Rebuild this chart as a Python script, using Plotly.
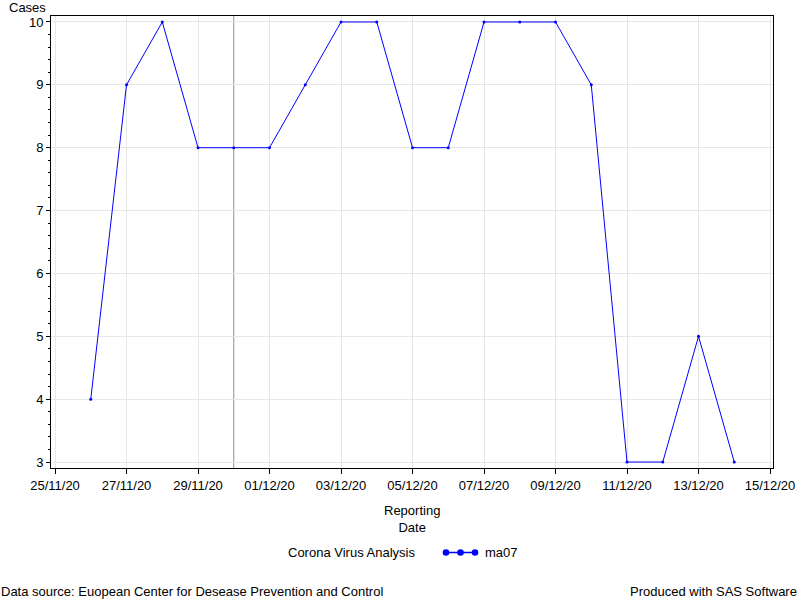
import plotly.graph_objects as go
import pandas as pd

dates = ["2020-11-26", "2020-11-27", "2020-11-28", "2020-11-29", "2020-11-30",
         "2020-12-01", "2020-12-02", "2020-12-03", "2020-12-04", "2020-12-05",
         "2020-12-06", "2020-12-07", "2020-12-08", "2020-12-09", "2020-12-10",
         "2020-12-11", "2020-12-12", "2020-12-13", "2020-12-14"]
ma07 = [4, 9, 10, 8, 8, 8, 9, 10, 10, 8, 8, 10, 10, 10, 9, 3, 3, 5, 3]
ref_date = "2020-11-30"
x_ticks = ["2020-11-25", "2020-11-27", "2020-11-29", "2020-12-01", "2020-12-03",
           "2020-12-05", "2020-12-07", "2020-12-09", "2020-12-11", "2020-12-13",
           "2020-12-15"]
x_ticktext = [pd.Timestamp(d).strftime("%d/%m/%y") for d in x_ticks]

FONT = "Liberation Sans, Arial, sans-serif"
FS = 13
BLUE = "#0000ff"

# plot area in pixels
L, T, R, B = 51, 16, 773, 468
W, H = R - L, B - T


def px(xp):
    return (xp - L) / W


def py(yp):
    return (B - yp) / H


fig = go.Figure()
fig.add_trace(go.Scatter(
    x=dates, y=ma07, mode="lines+markers", name="ma07",
    line=dict(color=BLUE, width=1),
    marker=dict(color=BLUE, size=3),
    showlegend=False,
))

shapes = [dict(type="line", xref="x", yref="paper", x0=ref_date, x1=ref_date,
               y0=0, y1=1, line=dict(color="#909090", width=1), layer="below")]

# custom legend symbol: line with three markers
ly = py(552.5)
shapes.append(dict(type="line", xref="paper", yref="paper", x0=px(443), x1=px(478),
                   y0=ly, y1=ly, line=dict(color=BLUE, width=1.5)))
for mx in (446, 460.5, 475):
    shapes.append(dict(type="circle", xref="paper", yref="paper",
                       xsizemode="pixel", ysizemode="pixel",
                       xanchor=px(mx), yanchor=ly, x0=-3.3, x1=3.3, y0=-3.3, y1=3.3,
                       fillcolor=BLUE, line=dict(color=BLUE, width=0)))

x0 = pd.Timestamp("2020-11-25") - pd.Timedelta(hours=2.7)
x1 = pd.Timestamp("2020-12-15") + pd.Timedelta(hours=2.0)

fig.update_layout(
    width=800, height=600,
    paper_bgcolor="white", plot_bgcolor="white",
    margin=dict(l=L, r=800 - R, t=T, b=600 - B, autoexpand=False),
    font=dict(family=FONT, size=FS, color="black"),
    showlegend=False,
    shapes=shapes,
    xaxis=dict(
        range=[x0, x1], tickmode="array", tickvals=x_ticks, ticktext=x_ticktext,
        showgrid=True, gridcolor="#e6e6e6", gridwidth=1,
        ticks="outside", ticklen=5, tickcolor="black",
        showline=True, linecolor="black", linewidth=1, mirror=True,
        zeroline=False, automargin=False,
    ),
    yaxis=dict(
        range=[2.905, 10.095], tickmode="linear", tick0=3, dtick=1,
        showgrid=True, gridcolor="#e6e6e6", gridwidth=1,
        ticks="outside", ticklen=4, tickcolor="black",
        minor=dict(dtick=0.2, ticks="outside", ticklen=2, tickcolor="black", showgrid=False),
        showline=True, linecolor="black", linewidth=1, mirror=True,
        zeroline=False, automargin=False,
    ),
    annotations=[
        dict(text="Cases", xref="paper", yref="paper", x=px(7), y=py(8), xanchor="left",
             yanchor="middle", showarrow=False, font=dict(size=FS)),
        dict(text="Reporting<br>Date", xref="paper", yref="paper", x=px(412), y=py(518.5),
             xanchor="center", yanchor="middle", showarrow=False, font=dict(size=FS)),
        dict(text="Corona Virus Analysis", xref="paper", yref="paper", x=px(417), y=ly,
             xanchor="right", yanchor="middle", showarrow=False, font=dict(size=FS)),
        dict(text="ma07", xref="paper", yref="paper", x=px(483), y=ly,
             xanchor="left", yanchor="middle", showarrow=False, font=dict(size=FS)),
        dict(text="Data source: Euopean Center for Desease Prevention and Control",
             xref="paper", yref="paper", x=px(-1), y=py(591), xanchor="left", yanchor="middle",
             showarrow=False, font=dict(size=FS)),
        dict(text="Produced with SAS Software",
             xref="paper", yref="paper", x=px(799), y=py(591), xanchor="right", yanchor="middle",
             showarrow=False, font=dict(size=FS)),
    ],
)

fig.write_html("out.html", config={"displayModeBar": False},
               post_script="document.body.style.margin='0';document.body.style.overflow='hidden';")
